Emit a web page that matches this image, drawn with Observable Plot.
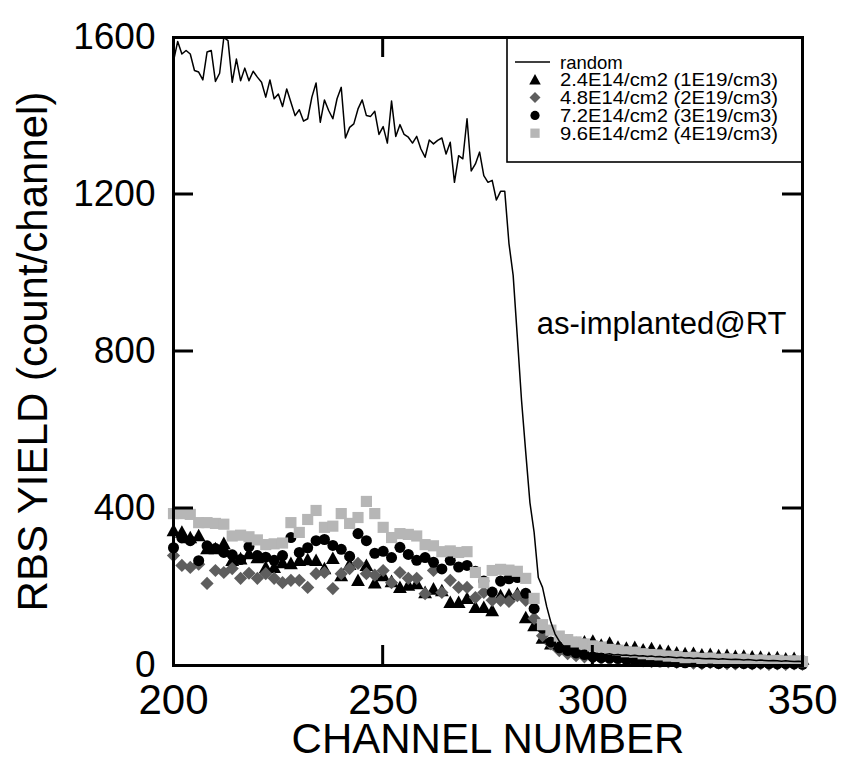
<!DOCTYPE html>
<html><head><meta charset="utf-8">
<script src="https://cdn.jsdelivr.net/npm/d3@7"></script>
<script src="https://cdn.jsdelivr.net/npm/@observablehq/plot@0.6"></script>
<style>
body{margin:0;background:#fff;}
#chart svg{display:block;}
</style></head><body><div id="chart"></div>
<script>
// ---- data ----
const randomChannels = [
200,201,202,203,204,205,206,207,208,209,210,211,212,213,214,215,216,217,218,219,
220,221,222,223,224,225,226,227,228,229,230,231,232,233,234,235,236,237,238,239,
240,241,242,243,244,245,246,247,248,249,250,251,252,253,254,255,256,257,258,259,
260,261,262,263,264,265,266,267,268,269,270,271,272,273,274,275,276,277,278,279,
280,281,282,283,284,285,286,287,288,289,290,291,292,293,294,295,296,297,298,299,
300,301,302,303,304,305,306,307,308,309,310,311,312,313,314,315,316,317,318,319,
320,321,322,323,324,325,326,327,328,329,330,331,332,333,334,335,336,337,338,339,
340,341,342,343,344,345,346,347,348,349,350];
const randomYield = [
1540,1590,1558,1567,1558,1516,1512,1492,1563,1567,
1488,1509,1600,1592,1486,1545,1490,1522,1490,1514,
1499,1486,1448,1492,1444,1456,1424,1469,1435,1401,
1416,1387,1393,1448,1484,1384,1441,1414,1393,1444,
1473,1344,1371,1380,1418,1441,1401,1399,1412,1353,
1373,1331,1438,1348,1378,1353,1346,1331,1348,1316,
1295,1339,1329,1338,1344,1303,1333,1231,1299,1291,
1393,1260,1278,1308,1248,1231,1236,1186,1208,1208,
1075,994,836,675,543,415,339,224,199,150,
110,80,62,50,42,38,36,34,33,31,
30,31,29,28,30,27,28,26,27,25,
26,24,25,23,24,22,23,21,22,21,
20,21,19,20,18,19,18,17,18,17,
16,17,16,15,16,15,14,15,14,13,
14,13,12,13,12,11,12,11,10,11,
10];

const channels = [
200,202,204,206,208,210,212,214,216,218,
220,222,224,226,228,230,232,234,236,238,
240,242,244,246,248,250,252,254,256,258,
260,262,264,266,268,270,272,274,276,278,
280,282,284,286,288,290,292,294,296,298,
300,302,304,306,308,310,312,314,316,318,
320,322,324,326,328,330,332,334,336,338,
340,342,344,346,348,350];
// 2.4E14/cm2 (1E19/cm3) - triangles
const dose24 = [
344,340,326,331,298,298,311,268,272,285,
275,250,250,262,260,268,270,268,247,273,
229,258,217,255,211,229,214,199,205,209,
186,195,191,161,161,171,148,148,140,178,
180,183,122,102,70,55,52,50,56,60,
62,52,57,47,44,46,40,43,38,36,
32,30,31,27,28,25,26,23,24,22,
21,19,20,17,18,16];
// 4.8E14/cm2 (2E19/cm3) - diamonds
const dose48 = [
280,255,250,258,209,242,237,247,222,235,
222,234,222,211,217,217,199,234,237,196,
234,247,260,234,230,242,211,237,222,222,
183,242,186,217,199,199,173,186,166,166,
163,178,166,120,76,55,38,30,25,22,
20,18,16,15,17,15,12,10,13,9,
8,10,6,5,7,6,5,4,6,4,
5,3,4,3,4,3];
// 7.2E14/cm2 (3E19/cm3) - circles
const dose72 = [
300,325,318,267,305,298,288,282,270,303,
280,276,268,280,326,288,300,318,321,306,
296,278,336,318,286,291,275,301,283,268,
275,263,246,268,251,255,240,215,187,215,
221,224,184,145,95,60,45,38,32,28,
22,20,19,18,15,12,14,10,9,11,
8,7,9,6,8,5,7,6,5,4,
6,5,4,5,4,3];
// 9.6E14/cm2 (4E19/cm3) - squares
const dose96 = [
387,387,385,364,364,362,360,330,332,328,
320,308,310,312,364,339,372,395,352,355,
387,362,377,418,387,352,326,336,334,330,
308,305,290,292,288,290,237,211,242,245,
243,240,222,171,104,90,75,66,60,55,
50,47,41,39,35,34,30,28,27,24,
23,20,21,18,19,16,17,15,16,13,
14,12,13,11,12,10];

const seriesLabels = ["random","2.4E14/cm2 (1E19/cm3)","4.8E14/cm2 (2E19/cm3)","7.2E14/cm2 (3E19/cm3)","9.6E14/cm2 (4E19/cm3)"];
const xTicks = [200,250,300,350];
const yTicks = [0,400,800,1200,1600];
const xLabel = "CHANNEL NUMBER";
const yLabel = "RBS YIELD (count/channel)";
const annotation = "as-implanted@RT";

// ---- symbols ----
const triSym = {draw(ctx, size){const r=Math.sqrt(size/Math.PI); ctx.moveTo(0,-r*1.15); ctx.lineTo(r*1.15,r*0.95); ctx.lineTo(-r*1.15,r*0.95); ctx.closePath();}};
const diaSym = {draw(ctx, size){const r=Math.sqrt(size/Math.PI)*1.1; ctx.moveTo(0,-r); ctx.lineTo(r,0); ctx.lineTo(0,r); ctx.lineTo(-r,0); ctx.closePath();}};
const cirSym = {draw(ctx, size){const r=Math.sqrt(size/Math.PI)*0.92; ctx.moveTo(r,0); ctx.arc(0,0,r,0,2*Math.PI);}};
const sqSym = {draw(ctx, size){const r=Math.sqrt(size/Math.PI)*0.93; ctx.rect(-r,-r,2*r,2*r);}};

const series = [
  {values: dose24, sym: triSym, fill: "#000000"},
  {values: dose48, sym: diaSym, fill: "#5e5e5e"},
  {values: dose72, sym: cirSym, fill: "#000000"},
  {values: dose96, sym: sqSym, fill: "#b6b6b6"}
];
const toRows = (vals) => channels.map((c,i)=>({ch:c, v:vals[i]}));
const randomRows = randomChannels.map((c,i)=>({ch:c, v:randomYield[i]}));

const font = "'Liberation Sans', Arial, Helvetica, sans-serif";
const markR = 6;

const chart = Plot.plot({
  width: 841, height: 771,
  marginLeft: 173, marginRight: 39, marginTop: 37, marginBottom: 106,
  style: {fontFamily: font, background: "#fff", color: "#000", overflow: "visible"},
  x: {domain: [200, 350]},
  y: {domain: [0, 1600]},
  marks: [
    Plot.axisX(xTicks, {tickSize: 0, tickPadding: 19, fontSize: 42, label: null, tickFormat: d3.format("d")}),
    Plot.axisY(yTicks, {tickSize: 0, tickPadding: 18, fontSize: 37, label: null, tickFormat: d3.format("d")}),
    Plot.dot(toRows(dose24), {x: "ch", y: "v", symbol: triSym, r: markR, fill: series[0].fill, stroke: null}),
    Plot.dot(toRows(dose48), {x: "ch", y: "v", symbol: diaSym, r: markR, fill: series[1].fill, stroke: null}),
    Plot.dot(toRows(dose72), {x: "ch", y: "v", symbol: cirSym, r: markR, fill: series[2].fill, stroke: null}),
    Plot.dot(toRows(dose96), {x: "ch", y: "v", symbol: sqSym, r: markR, fill: series[3].fill, stroke: null}),
    Plot.line(randomRows, {x: "ch", y: "v", stroke: "#000", strokeWidth: 1.5}),
    Plot.text([annotation], {frameAnchor: "right", textAnchor: "end", lineAnchor: "middle", dx: -16, dy: -27, fontSize: 31, fill: "#000"}),
    Plot.text([xLabel], {frameAnchor: "bottom", textAnchor: "middle", lineAnchor: "middle", dy: 74, fontSize: 42, fill: "#000"}),
    Plot.text([yLabel], {frameAnchor: "left", textAnchor: "middle", lineAnchor: "middle", rotate: -90, dx: -140, fontSize: 42, fill: "#000"}),
    Plot.frame({stroke: "#000", strokeWidth: 3})
  ]
});
document.getElementById("chart").appendChild(chart);

// ---- inward ticks and legend (drawn from the plot's scales) ----
const sx = chart.scale("x"), sy = chart.scale("y");
const [x0, x1] = sx.range, [y0, y1] = sy.range; // y0 bottom, y1 top
const svg = d3.select(chart);
const frameNode = svg.select('[aria-label="frame"]').node();
const extra = d3.select(chart.insertBefore(document.createElementNS("http://www.w3.org/2000/svg","g"), frameNode));
const tickLen = 20;
const ticks = extra.append("g").attr("stroke","#000").attr("stroke-width",3);
xTicks.slice(1,-1).forEach(v => {
  const px = sx.apply(v);
  ticks.append("line").attr("x1",px).attr("x2",px).attr("y1",y0).attr("y2",y0-tickLen);
  ticks.append("line").attr("x1",px).attr("x2",px).attr("y1",y1).attr("y2",y1+tickLen);
});
yTicks.slice(1,-1).forEach(v => {
  const py = sy.apply(v);
  ticks.append("line").attr("y1",py).attr("y2",py).attr("x1",x0).attr("x2",x0+tickLen);
  ticks.append("line").attr("y1",py).attr("y2",py).attr("x1",x1).attr("x2",x1-tickLen);
});

const lg = extra.append("g").attr("font-family", font).attr("font-size", 18.5).attr("text-anchor","start");
const lgLeft = 507, lgBottom = 162;
lg.append("rect").attr("x", lgLeft).attr("y", y1).attr("width", x1 - lgLeft).attr("height", lgBottom - y1)
  .attr("fill","#fff").attr("stroke","#000").attr("stroke-width",1.6);
const rowY = i => 62 + i*17.8;
lg.append("line").attr("x1",515).attr("x2",550).attr("y1",rowY(0)).attr("y2",rowY(0)).attr("stroke","#000").attr("stroke-width",1.5);
series.forEach((s,i) => {
  lg.append("path").attr("d", d3.symbol().type(s.sym).size(Math.PI*25)()).attr("transform",`translate(535,${rowY(i+1)})`).attr("fill", s.fill);
});
seriesLabels.forEach((t,i) => {
  const el = lg.append("text").attr("x",560).attr("y",rowY(i)).attr("dy","0.36em").attr("text-anchor","start").text(t);
  if (i > 0) el.attr("textLength", 218).attr("lengthAdjust", "spacingAndGlyphs");
});
</script>
</body></html>
